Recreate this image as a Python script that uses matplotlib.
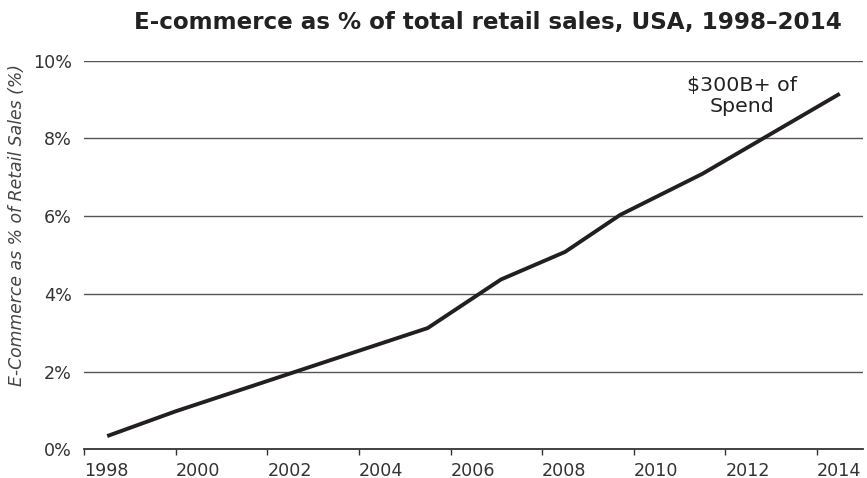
import matplotlib
matplotlib.use("Agg")
import matplotlib.pyplot as plt
from matplotlib.ticker import FuncFormatter

# Data
years = [1998.5, 2000.0, 2005.5, 2007.1, 2008.5, 2009.7, 2011.5, 2014.5]
share_pct = [0.34, 0.98, 3.12, 4.37, 5.08, 6.03, 7.09, 9.15]
x_ticks = [1998, 2000, 2002, 2004, 2006, 2008, 2010, 2012, 2014]
y_ticks = [0, 2, 4, 6, 8, 10]
title = "E-commerce as % of total retail sales, USA, 1998\u20132014"
y_label = "E-Commerce as % of Retail Sales (%)"
note = "$300B+ of\nSpend"

plt.rcParams['font.family'] = ['DejaVu Sans']

W, H = 867, 478
fig = plt.figure(figsize=(W / 100, H / 100), dpi=100)
ax = fig.add_axes([84.3 / W, 1 - 449.3 / H, (862.7 - 84.3) / W, (449.3 - 60.7) / H])

ax.plot(years, share_pct, color='#231f20', lw=2.8, solid_capstyle='butt', zorder=3)

ax.set_xlim(1998, 2015)
ax.set_ylim(0, 10)
ax.set_xticks(x_ticks)
ax.set_yticks(y_ticks)
ax.yaxis.set_major_formatter(FuncFormatter(lambda v, p: f"{int(v)}%"))

for v in y_ticks[1:]:
    ax.axhline(v, color='#555555', lw=1.0, zorder=1)

for s in ['top', 'right', 'left']:
    ax.spines[s].set_visible(False)
ax.spines['bottom'].set_color('#333333')
ax.spines['bottom'].set_linewidth(1.3)

ax.tick_params(axis='y', length=0, pad=9, labelsize=12.6, labelcolor='#333333')
ax.tick_params(axis='x', direction='out', length=4.3, width=1.0, color='#333333',
               pad=4.5, labelsize=12.6, labelcolor='#333333')
for lab in ax.get_xticklabels():
    lab.set_ha('left')

fig.canvas.draw()
renderer = fig.canvas.get_renderer()


def fit(txt, target_px):
    bb = txt.get_window_extent(renderer)
    cur = bb.width if txt.get_rotation() == 0 else bb.height
    txt.set_fontsize(txt.get_fontsize() * target_px / cur)


t = fig.text(488 / W, 1 - 23 / H, title, ha='center', va='center', fontsize=19,
             fontweight='bold', color='#222222')
fit(t, 710)

yl = fig.text(17 / W, 1 - 225 / H, y_label, ha='center', va='center', rotation=90,
              fontsize=12, style='italic', color='#444444')
fit(yl, 320)

n1 = ax.text(742 / W, 1 - 96 / H, note, transform=fig.transFigure, ha='center',
             va='center', fontsize=12, color='#222222', linespacing=1.15)
bb = n1.get_window_extent(renderer)
n1.set_fontsize(12 * 109 / (bb.width))

fig.savefig('out.png', dpi=100)
